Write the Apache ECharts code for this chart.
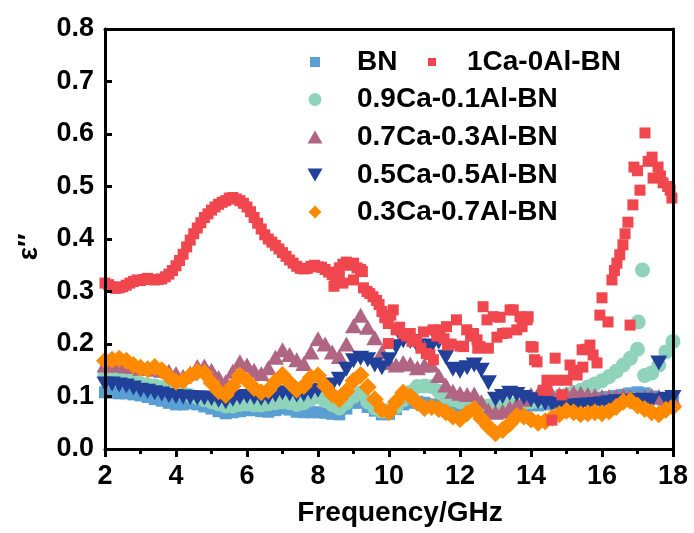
<!DOCTYPE html>
<html><head><meta charset="utf-8">
<script src="https://cdn.jsdelivr.net/npm/echarts@6/dist/echarts.min.js"></script>
<style>html,body{margin:0;padding:0;background:#fff}#c{width:694px;height:533px}</style>
</head><body><div id="c"></div>
<script>
// Frequency grid (GHz) shared by the banded series
const freq = [2,2.2,2.4,2.6,2.8,3,3.2,3.4,3.6,3.8,4,4.2,4.4,4.6,4.8,5,5.2,5.4,5.6,5.8,6,6.2,6.4,6.6,6.8,7,7.2,7.4,7.6,7.8,8,8.2,8.4,8.6,8.8,9,9.2,9.4,9.6,9.8,10,10.2,10.4,10.6,10.8,11,11.2,11.4,11.6,11.8,12,12.2,12.4,12.6,12.8,13,13.2,13.4,13.6,13.8,14,14.2,14.4,14.6,14.8,15,15.2,15.4,15.6,15.8,16,16.2,16.4,16.6,16.8,17,17.2,17.4,17.6,17.8,18];

const bn = [.108,.107,.106,.106,.104,.102,.099,.095,.092,.088,
.085,.085,.087,.085,.081,.077,.072,.068,.070,.072,
.074,.074,.072,.071,.074,.077,.075,.071,.070,.070,
.070,.069,.067,.066,.077,.088,.088,.080,.073,.066,
.067,.076,.085,.088,.090,.088,.085,.083,.084,.080,
.078,.079,.076,.075,.077,.079,.078,.080,.082,.081,
.084,.083,.085,.088,.087,.090,.089,.092,.095,.098,
.096,.099,.101,.103,.106,.108,.106,.100,.095,.092,.090];

const ca09 = [.140,.138,.135,.132,.128,.125,.122,.120,.117,.113,
.110,.106,.102,.098,.094,.090,.086,.082,.082,.085,
.086,.084,.084,.086,.088,.090,.088,.085,.088,.095,
.100,.092,.085,.078,.088,.100,.106,.090,.078,.072,
.074,.080,.094,.108,.119,.120,.119,.110,.100,.094,
.090,.088,.086,.083,.082,.080,.083,.085,.086,.088,
.090,.091,.094,.097,.100,.103,.108,.112,.118,.124,
.130,.138,.148,.160,.173,.190,.140,.145,.160,.185,.205];
const ca09ExtraX = [17.02, 17.14];
const ca09ExtraY = [0.242, 0.341];

const ca07 = [.160,.160,.160,.158,.157,.154,.155,.152,.150,.148,
.144,.138,.145,.157,.158,.150,.136,.128,.148,.166,
.160,.150,.144,.155,.175,.189,.180,.170,.163,.185,
.210,.200,.185,.176,.200,.235,.255,.232,.212,.185,
.165,.160,.165,.162,.155,.160,.160,.140,.122,.110,
.106,.104,.105,.090,.074,.070,.072,.078,.085,.095,
.104,.105,.104,.103,.104,.105,.107,.106,.104,.102,
.100,.100,.101,.103,.100,.098,.100,.102,.100,.097,.095];

const ca05 = [.124,.124,.122,.120,.116,.112,.110,.107,.105,.102,
.100,.099,.098,.097,.097,.096,.093,.090,.095,.098,
.100,.098,.096,.098,.103,.107,.105,.103,.104,.108,
.112,.116,.122,.133,.152,.168,.173,.170,.160,.155,
.170,.195,.206,.205,.196,.190,.196,.204,.175,.152,
.148,.155,.160,.150,.126,.095,.100,.106,.104,.098,
.094,.090,.087,.085,.082,.080,.082,.083,.084,.085,
.086,.088,.090,.090,.091,.092,.093,.092,.164,.095,.098];

const ca03 = [.168,.170,.172,.168,.160,.155,.152,.156,.150,.138,
.128,.130,.140,.147,.145,.126,.110,.103,.120,.140,
.130,.116,.108,.112,.128,.141,.126,.113,.120,.136,
.140,.120,.104,.095,.110,.130,.141,.118,.095,.075,
.070,.090,.107,.100,.088,.078,.080,.076,.070,.062,
.057,.068,.076,.058,.043,.030,.036,.048,.063,.062,
.056,.050,.053,.060,.066,.073,.070,.066,.068,.070,
.068,.072,.080,.090,.092,.083,.076,.070,.066,.075,.080];

const ca10X = [2.0,2.1,2.2,2.3,2.4,2.5,2.6,2.7,2.8,2.9,3.0,3.1,3.2,3.3,3.4,3.5,3.6,3.7,3.8,3.9,
4.0,4.1,4.2,4.3,4.4,4.5,4.6,4.7,4.8,4.9,5.0,5.1,5.2,5.3,5.4,5.5,5.6,5.7,5.8,5.9,
6.0,6.1,6.2,6.3,6.4,6.5,6.6,6.7,6.8,6.9,7.0,7.1,7.2,7.3,7.4,7.5,7.6,7.7,7.8,7.9,
8.0,8.1,8.2,8.3,8.4,8.5,8.6,8.45,8.7,8.6,8.7,8.8,8.9,9.0,9.1,9.2,9.25,9.0,9.28,9.38,
9.46,9.55,9.65,9.72,9.8,9.88,9.98,10.05,10.12,9.98,10.2,10.3,10.4,10.5,10.6,10.65,10.78,10.9,10.97,11.05,
11.15,11.25,11.24,11.35,11.44,11.55,11.62,11.65,11.75,11.9,12.0,12.1,12.19,12.3,12.38,12.48,12.5,12.56,12.65,12.76,
12.8,12.94,13.04,13.13,13.2,13.32,13.41,13.5,13.6,13.69,13.75,13.89,13.92,14.0,14.06,14.1,14.17,14.34,14.45,14.45,
14.59,14.68,14.73,14.87,15.01,15.1,15.2,15.3,15.44,15.46,15.55,15.66,15.75,15.86,15.94,16.0,16.17,16.28,16.35,16.42,
16.5,16.59,16.65,16.73,16.79,16.87,16.9,17.0,17.07,17.21,17.3,17.41,17.44,17.58,17.65,17.72,17.85,17.92,17.97];
const ca10Y = [.316,.313,.309,.306,.307,.309,.312,.316,.319,.322,.321,.323,.325,.323,.322,.323,.324,.328,.333,.340,
.349,.359,.371,.385,.398,.410,.421,.431,.441,.448,.455,.461,.466,.470,.473,.478,.479,.476,.473,.468,
.461,.452,.441,.430,.419,.408,.400,.394,.388,.381,.374,.367,.360,.354,.348,.344,.343,.344,.348,.350,
.347,.346,.342,.337,.332,.328,.326,.310,.316,.345,.352,.356,.350,.354,.345,.342,.338,.322,.307,.300,
.296,.290,.283,.275,.262,.250,.239,.255,.265,.201,.227,.232,.220,.215,.220,.205,.208,.192,.223,.182,
.180,.170,.227,.215,.227,.210,.233,.198,.200,.246,.196,.195,.227,.215,.220,.208,.192,.195,.271,.246,
.192,.252,.213,.251,.220,.221,.265,.265,.227,.252,.233,.246,.252,.195,.194,.170,.166,.112,.131,.112,
.055,.173,.131,.103,.131,.160,.150,.141,.189,.156,.190,.198,.179,.164,.255,.288,.242,.322,.340,.354,
.370,.389,.410,.432,.236,.465,.537,.530,.493,.602,.548,.556,.516,.537,.520,.507,.500,.493,.478];

const yTicks = ['0.0','0.1','0.2','0.3','0.4','0.5','0.6','0.7','0.8'];

const FONT = '"Liberation Sans", Arial, Helvetica, sans-serif';
const pairs = (xs, ys) => xs.map((x, i) => [x, ys[i]]);
const chart = echarts.init(document.getElementById('c'));

const lineStyle = {color: '#000', width: 3};
const labelFont = {fontFamily: FONT, fontWeight: 'bold', fontSize: 27, color: '#000'};

function leg(name, cx, cy, w, h, tx) {
  const left = cx - w / 2;
  return {
    data: [name], left: left, top: cy - 15, itemWidth: w, itemHeight: h,
    padding: 0, selectedMode: false,
    textStyle: {fontFamily: FONT, fontWeight: 'bold', fontSize: 28, color: '#000', lineHeight: 30,
      padding: [0, 0, 0, tx - left - w - 5]}
  };
}

const downTri = 'path://M0,0L10,0L5,8.66Z';

chart.setOption({
  animation: false,
  backgroundColor: '#fff',
  grid: {left: 105, right: 21, top: 29, bottom: 84, containLabel: false},
  legend: [
    leg('BN', 315, 62, 10, 10, 357),
    leg('1Ca-0Al-BN', 432, 62, 8, 8, 467),
    leg('0.9Ca-0.1Al-BN', 315, 99.5, 13, 13, 357),
    leg('0.7Ca-0.3Al-BN', 315, 137, 15, 13, 357),
    leg('0.5Ca-0.5Al-BN', 315, 175, 15, 13, 357),
    leg('0.3Ca-0.7Al-BN', 315, 212, 13, 13, 357)
  ],
  xAxis: [{
    type: 'value', min: 2, max: 18, interval: 2, position: 'bottom', z: 10,
    axisLine: {show: true, onZero: false, lineStyle: lineStyle},
    axisTick: {show: true, inside: false, length: 8, lineStyle: lineStyle},
    minorTick: {show: true, splitNumber: 2, length: 5, lineStyle: lineStyle},
    splitLine: {show: false},
    axisLabel: Object.assign({margin: 14}, labelFont),
    name: 'Frequency/GHz', nameLocation: 'middle', nameGap: 50, nameMoveOverlap: false,
    nameTextStyle: Object.assign({}, labelFont, {fontSize: 28, padding: [0, 0, 0, 22]})
  }, {
    type: 'value', min: 2, max: 18, position: 'top', z: 10,
    axisLine: {show: true, onZero: false, lineStyle: lineStyle},
    axisTick: {show: false}, axisLabel: {show: false}, splitLine: {show: false}
  }],
  yAxis: [{
    type: 'value', min: 0, max: 0.8, interval: 0.1, position: 'left', z: 10,
    axisLine: {show: true, onZero: false, lineStyle: lineStyle},
    axisTick: {show: true, inside: true, length: 7, lineStyle: lineStyle},
    splitLine: {show: false},
    axisLabel: Object.assign({margin: 11, formatter: (v) => yTicks[Math.round(v * 10)]}, labelFont),
    name: 'ε′′', nameLocation: 'middle', nameRotate: 90, nameGap: 62, nameMoveOverlap: false,
    nameTextStyle: Object.assign({}, labelFont, {fontSize: 28, padding: [0, 16, 0, 0]})
  }, {
    type: 'value', min: 0, max: 0.8, position: 'right', z: 10,
    axisLine: {show: true, onZero: false, lineStyle: lineStyle},
    axisTick: {show: false}, axisLabel: {show: false}, splitLine: {show: false}
  }],
  series: [
    {name: 'BN', type: 'scatter', symbol: 'rect', symbolSize: 12,
     itemStyle: {color: '#5a9fd4', opacity: 1}, data: pairs(freq, bn)},
    {name: '0.9Ca-0.1Al-BN', type: 'scatter', symbol: 'circle', symbolSize: 15,
     itemStyle: {color: '#8fd3bb', opacity: 1}, data: pairs(freq, ca09).concat(pairs(ca09ExtraX, ca09ExtraY))},
    {name: '0.7Ca-0.3Al-BN', type: 'scatter', symbol: 'triangle', symbolSize: [17, 15],
     itemStyle: {color: '#b06682', opacity: 1}, data: pairs(freq, ca07)},
    {name: '0.5Ca-0.5Al-BN', type: 'scatter', symbol: downTri, symbolSize: [17, 15],
     itemStyle: {color: '#21409a', opacity: 1}, data: pairs(freq, ca05)},
    {name: '0.3Ca-0.7Al-BN', type: 'scatter', symbol: 'diamond', symbolSize: 18,
     itemStyle: {color: '#ff8a00', opacity: 1}, data: pairs(freq, ca03)},
    {name: '1Ca-0Al-BN', type: 'scatter', symbol: 'rect', symbolSize: 11,
     itemStyle: {color: '#f0464e', opacity: 1}, data: pairs(ca10X, ca10Y)}
  ]
});
</script></body></html>
